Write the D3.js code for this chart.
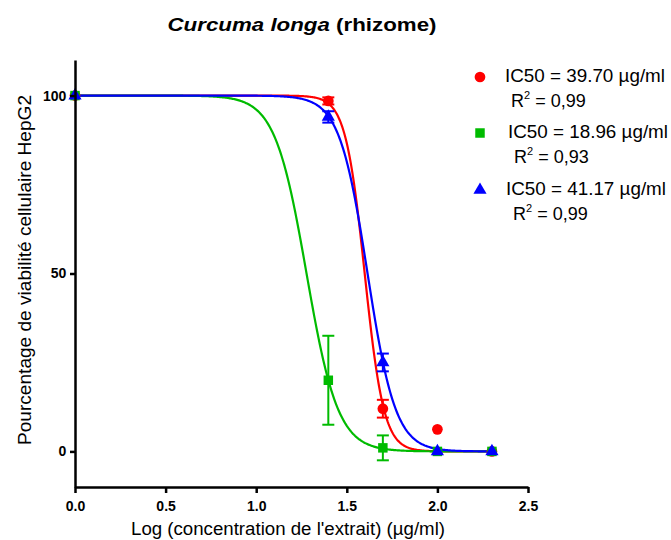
<!DOCTYPE html>
<html>
<head>
<meta charset="utf-8">
<script src="https://cdn.jsdelivr.net/npm/d3@7"></script>
<style>
  body { margin: 0; background: #fff; }
  svg { font-family: "Liberation Sans", Arial, sans-serif; }
</style>
</head>
<body>
<div id="chart"></div>
<script>
// log concentrations (1, 25, 50, 100, 200 ug/ml)
var logConc = [0, 1.398, 1.699, 2.0, 2.301];

var seriesNames = ["red", "green", "blue"];
var seriesColors = ["#ff0000", "#00bb00", "#0000ff"];
var seriesShapes = ["circle", "square", "triangle"];

var redMean = [100, 98.5, 12, 6.2, 0];
var redErr = [0, 1, 2.5, 0, 0];
var greenMean = [100, 20, 1, 0, 0];
var greenErr = [0, 12.5, 3.5, 0, 0];
var blueMean = [100, 94, 25, 0, 0];
var blueErr = [0, 1.6, 2.5, 0, 0];

// fit parameters (logIC50 from legend values, hill slope)
var ic50 = [39.70, 18.96, 41.17];
var hill = [8.2, 5, 5.6];
var r2Labels = ["0,99", "0,93", "0,99"];

var xTicks = [0, 0.5, 1.0, 1.5, 2.0, 2.5];
var yTicks = [0, 50, 100];

var width = 671, height = 540;

var svg = d3.select("#chart").append("svg")
  .attr("width", width)
  .attr("height", height);

var x = d3.scaleLinear().domain([0, 2.5]).range([75, 528]);
var y = d3.scaleLinear().domain([-10, 110]).range([487, 60]);

var means = [redMean, greenMean, blueMean];
var errs = [redErr, greenErr, blueErr];

// title
var title = svg.append("text")
  .attr("x", 302)
  .attr("y", 31)
  .attr("text-anchor", "middle")
  .attr("textLength", 269)
  .attr("lengthAdjust", "spacingAndGlyphs")
  .style("font-size", "17.5px")
  .style("font-weight", "bold");
title.append("tspan").style("font-style", "italic").text("Curcuma longa");
title.append("tspan").text(" (rhizome)");

// fitted curves
var curveX = d3.range(0, 2.3011, 0.005);
var line = d3.line()
  .x(function(d) { return x(d[0]); })
  .y(function(d) { return y(d[1]); });

seriesNames.forEach(function(name, i) {
  var logIc = Math.log10(ic50[i]);
  var pts = curveX.map(function(v) {
    return [v, 100 / (1 + Math.pow(10, (v - logIc) * hill[i]))];
  });
  svg.append("path")
    .attr("d", line(pts))
    .attr("fill", "none")
    .attr("stroke", seriesColors[i])
    .attr("stroke-width", 2.2);
});

// error bars + markers
var sym = {
  circle: d3.symbol().type(d3.symbolCircle).size(90),
  square: d3.symbol().type(d3.symbolSquare).size(90),
  triangle: d3.symbol().type(d3.symbolTriangle).size(75)
};

seriesNames.forEach(function(name, i) {
  var g = svg.append("g");
  logConc.forEach(function(lc, j) {
    var m = means[i][j], e = errs[i][j];
    if (e > 0) {
      var cx = x(lc);
      g.append("line")
        .attr("x1", cx).attr("x2", cx)
        .attr("y1", y(m - e)).attr("y2", y(m + e))
        .attr("stroke", seriesColors[i]).attr("stroke-width", 2);
      [m - e, m + e].forEach(function(v) {
        g.append("line")
          .attr("x1", cx - 6).attr("x2", cx + 6)
          .attr("y1", y(v)).attr("y2", y(v))
          .attr("stroke", seriesColors[i]).attr("stroke-width", 2);
      });
    }
    g.append("path")
      .attr("d", sym[seriesShapes[i]]())
      .attr("transform", "translate(" + x(lc) + "," + y(m) + ")")
      .attr("fill", seriesColors[i]);
  });
});

// axes
var xAxis = svg.append("g")
  .attr("transform", "translate(0," + 487 + ")")
  .call(d3.axisBottom(x).tickValues(xTicks).tickFormat(d3.format(".1f")).tickSize(6).tickSizeOuter(0));
var yAxis = svg.append("g")
  .attr("transform", "translate(" + 75 + ",0)")
  .call(d3.axisLeft(y).tickValues(yTicks).tickSize(5).tickSizeOuter(0));

[xAxis, yAxis].forEach(function(ax) {
  ax.select(".domain").attr("stroke", "#000").attr("stroke-width", 2.5);
  ax.selectAll(".tick line").attr("stroke", "#000").attr("stroke-width", 2.5);
  ax.selectAll("text")
    .attr("fill", "#000")
    .style("font-family", "Liberation Sans, Arial, sans-serif")
    .style("font-size", "14px")
    .style("font-weight", "bold");
});
xAxis.selectAll("text").attr("dy", "1.05em");
yAxis.selectAll("text").attr("dx", "-0.05em");

// axis titles
svg.append("text")
  .attr("x", 288)
  .attr("y", 535)
  .attr("text-anchor", "middle")
  .attr("textLength", 314)
  .attr("lengthAdjust", "spacingAndGlyphs")
  .style("font-size", "17.5px")
  .text("Log (concentration de l'extrait) (\u00b5g/ml)");

svg.append("text")
  .attr("transform", "translate(31,270) rotate(-90)")
  .attr("text-anchor", "middle")
  .attr("textLength", 350)
  .attr("lengthAdjust", "spacingAndGlyphs")
  .style("font-size", "18px")
  .text("Pourcentage de viabilit\u00e9 cellulaire HepG2");

// legend
var legendY = [77, 133, 190];
var legendTextX = [505, 508, 506];
var legendR2X = [511, 514, 513];

var legend = svg.selectAll(".legend")
  .data(seriesNames)
  .enter()
  .append("g");

legend.append("path")
  .attr("d", function(d, i) { return sym[seriesShapes[i]](); })
  .attr("transform", function(d, i) { return "translate(480," + legendY[i] + ")"; })
  .attr("fill", function(d, i) { return seriesColors[i]; });

legend.append("text")
  .attr("x", function(d, i) { return legendTextX[i]; })
  .attr("y", function(d, i) { return legendY[i] + 5; })
  .attr("textLength", 160)
  .attr("lengthAdjust", "spacingAndGlyphs")
  .style("font-size", "18px")
  .text(function(d, i) { return "IC50 = " + ic50[i].toFixed(2) + " \u00b5g/ml"; });

var r2 = legend.append("text")
  .attr("x", function(d, i) { return legendR2X[i]; })
  .attr("y", function(d, i) { return legendY[i] + 30; })
  .style("font-size", "18px");
r2.append("tspan").text("R");
r2.append("tspan").attr("dy", -8).style("font-size", "11px").text("2");
r2.append("tspan").attr("dy", 8).text(function(d, i) { return " = " + r2Labels[i]; });
</script>
</body>
</html>
